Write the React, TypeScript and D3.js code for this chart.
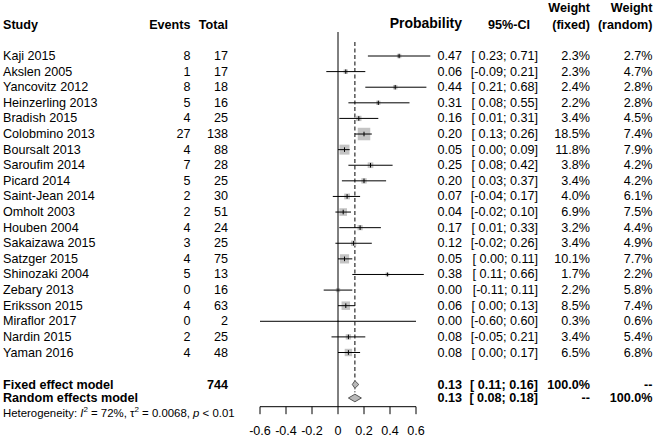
import React from "react";
import * as d3 from "d3";

const studies = ["Kaji 2015","Akslen 2005","Yancovitz 2012","Heinzerling 2013","Bradish 2015","Colobmino 2013","Boursalt 2013","Saroufim 2014","Picard 2014","Saint-Jean 2014","Omholt 2003","Houben 2004","Sakaizawa 2015","Satzger 2015","Shinozaki 2004","Zebary 2013","Eriksson 2015","Miraflor 2017","Nardin 2015","Yaman 2016"];
const events = [8,1,8,5,4,27,4,7,5,2,2,4,3,4,5,0,4,0,2,4];
const totals = [17,17,18,16,25,138,88,28,25,30,51,24,25,75,13,16,63,2,25,48];
const probs = [0.47,0.06,0.44,0.31,0.16,0.20,0.05,0.25,0.20,0.07,0.04,0.17,0.12,0.05,0.38,0.00,0.06,0.00,0.08,0.08];
const lower = [0.23,-0.09,0.21,0.08,0.01,0.13,0.00,0.08,0.03,-0.04,-0.02,0.01,-0.02,0.00,0.11,-0.11,0.00,-0.60,-0.05,0.00];
const upper = [0.71,0.21,0.68,0.55,0.31,0.26,0.09,0.42,0.37,0.17,0.10,0.33,0.26,0.11,0.66,0.11,0.13,0.60,0.21,0.17];
const wFixed = [2.3,2.3,2.4,2.2,3.4,18.5,11.8,3.8,3.4,4.0,6.9,3.2,3.4,10.1,1.7,2.2,8.5,0.3,3.4,6.5];
const wRandom = [2.7,4.7,2.8,2.8,4.5,7.4,7.9,4.2,4.2,6.1,7.5,4.4,4.9,7.7,2.2,5.8,7.4,0.6,5.4,6.8];

const fixedModel = { est: 0.13, lo: 0.11, hi: 0.16, total: 744 };
const randomModel = { est: 0.13, lo: 0.08, hi: 0.18 };
const axisTicks = [-0.6, -0.4, -0.2, 0, 0.2, 0.4, 0.6];
const tickLabels = ["-0.6", "-0.4", "-0.2", "0", "0.2", "0.4", "0.6"];

const FONT = "'Liberation Sans', Arial, sans-serif";
const FS = 12.6;

function fmt2(v: number) {
  return v.toFixed(2);
}
function ci(lo: number, hi: number) {
  return "[" + (lo < 0 ? "" : " ") + fmt2(lo) + "; " + fmt2(hi) + "]";
}

export default function App() {
  const x = d3.scaleLinear().domain([0, 1]).range([338, 468]);
  const y = d3.scaleLinear().domain([0, 19]).range([56, 352.5]);
  const sq = d3.scaleSqrt().domain([0, 18.5]).range([0, 12.5]);
  const yFixed = 384.5;
  const yRandom = 398;
  const yHet = 413;
  const axisY = 406.7;
  const diamondH = 3.8;

  const colEvents = 190.5;
  const colTotal = 228;
  const colProb = 462;
  const colCI = 538;
  const colWF = 590;
  const colWR = 652.5;

  const diamond = (m: { est: number; lo: number; hi: number }, cy: number) =>
    `M${x(m.lo)},${cy} L${x(m.est)},${cy - diamondH} L${x(m.hi)},${cy} L${x(m.est)},${cy + diamondH} Z`;

  return (
    <svg width={658} height={440} style={{ position: "absolute", left: 0, top: 0, background: "#fff" }} fontFamily={FONT} fontSize={FS}>
      <rect x={0} y={0} width={658} height={440} fill="#fff" />
      {/* headers */}
      <g fontWeight="bold" dominantBaseline="central">
        <text x={3} y={24.5}>Study</text>
        <text x={colEvents} y={24.5} textAnchor="end">Events</text>
        <text x={colTotal} y={24.5} textAnchor="end">Total</text>
        <text x={colProb} y={23} textAnchor="end" fontSize={14}>Probability</text>
        <text x={530} y={24.5} textAnchor="end">95%-CI</text>
        <text x={colWF} y={7.5} textAnchor="end">Weight</text>
        <text x={colWF} y={24.5} textAnchor="end">(fixed)</text>
        <text x={colWR} y={7.5} textAnchor="end">Weight</text>
        <text x={colWR} y={24.5} textAnchor="end">(random)</text>
      </g>

      {/* reference lines */}
      <line x1={x(0)} x2={x(0)} y1={32} y2={axisY} stroke="#000" strokeWidth={1} />
      <line x1={x(fixedModel.est)} x2={x(fixedModel.est)} y1={42} y2={yFixed - diamondH} stroke="#000" strokeWidth={1} strokeDasharray="4,2.5" />
      <line x1={x(randomModel.est)} x2={x(randomModel.est)} y1={yFixed + diamondH} y2={yRandom - diamondH} stroke="#000" strokeWidth={1} strokeDasharray="1,2" />

      {/* study rows */}
      {studies.map((s, i) => {
        const cy = y(i);
        const size = sq(wFixed[i]);
        const tick = Math.min(size, 4.6);
        return (
          <g key={s}>
            <text x={3} y={cy} dominantBaseline="central">{s}</text>
            <text x={colEvents} y={cy} dominantBaseline="central" textAnchor="end">{events[i]}</text>
            <text x={colTotal} y={cy} dominantBaseline="central" textAnchor="end">{totals[i]}</text>
            <rect x={x(probs[i]) - size / 2} y={cy - size / 2} width={size} height={size} fill="#c4c4c4" />
            <line x1={x(lower[i])} x2={x(upper[i])} y1={cy} y2={cy} stroke="#000" strokeWidth={1} />
            <line x1={x(probs[i])} x2={x(probs[i])} y1={cy - tick / 2} y2={cy + tick / 2} stroke="#000" strokeWidth={1} />
            <text x={colProb} y={cy} dominantBaseline="central" textAnchor="end">{fmt2(probs[i])}</text>
            <text x={colCI} y={cy} dominantBaseline="central" textAnchor="end" style={{ whiteSpace: "pre" }}>{ci(lower[i], upper[i])}</text>
            <text x={colWF} y={cy} dominantBaseline="central" textAnchor="end">{wFixed[i].toFixed(1) + "%"}</text>
            <text x={colWR} y={cy} dominantBaseline="central" textAnchor="end">{wRandom[i].toFixed(1) + "%"}</text>
          </g>
        );
      })}

      {/* summary rows */}
      <g fontWeight="bold" dominantBaseline="central">
        <text x={3} y={yFixed}>Fixed effect model</text>
        <text x={colTotal} y={yFixed} textAnchor="end">{fixedModel.total}</text>
        <text x={colProb} y={yFixed} textAnchor="end">{fmt2(fixedModel.est)}</text>
        <text x={colCI} y={yFixed} textAnchor="end" style={{ whiteSpace: "pre" }}>{ci(fixedModel.lo, fixedModel.hi)}</text>
        <text x={colWF} y={yFixed} textAnchor="end">100.0%</text>
        <text x={colWR} y={yFixed} textAnchor="end">--</text>

        <text x={3} y={yRandom}>Random effects model</text>
        <text x={colProb} y={yRandom} textAnchor="end">{fmt2(randomModel.est)}</text>
        <text x={colCI} y={yRandom} textAnchor="end" style={{ whiteSpace: "pre" }}>{ci(randomModel.lo, randomModel.hi)}</text>
        <text x={colWF} y={yRandom} textAnchor="end">--</text>
        <text x={colWR} y={yRandom} textAnchor="end">100.0%</text>
      </g>
      <path d={diamond(fixedModel, yFixed)} fill="#b8b8b8" stroke="#555" strokeWidth={1} />
      <path d={diamond(randomModel, yRandom)} fill="#b8b8b8" stroke="#555" strokeWidth={1} />

      <text x={3} y={yHet} dominantBaseline="central" fontSize={11.4}>
        Heterogeneity: <tspan fontStyle="italic">I</tspan>
        <tspan dy={-4} fontSize={8}>2</tspan>
        <tspan dy={4}> = 72%, τ</tspan>
        <tspan dy={-4} fontSize={8}>2</tspan>
        <tspan dy={4}> = 0.0068, </tspan>
        <tspan fontStyle="italic">p</tspan>
        <tspan> &lt; 0.01</tspan>
      </text>

      {/* axis */}
      <line x1={x(axisTicks[0])} x2={x(axisTicks[axisTicks.length - 1])} y1={axisY} y2={axisY} stroke="#000" strokeWidth={1} />
      {axisTicks.map((t, i) => (
        <g key={t}>
          <line x1={x(t)} x2={x(t)} y1={axisY} y2={axisY + 7.5} stroke="#000" strokeWidth={1} />
          <text x={x(t)} y={431} textAnchor="middle" dominantBaseline="central">{tickLabels[i]}</text>
        </g>
      ))}
    </svg>
  );
}
